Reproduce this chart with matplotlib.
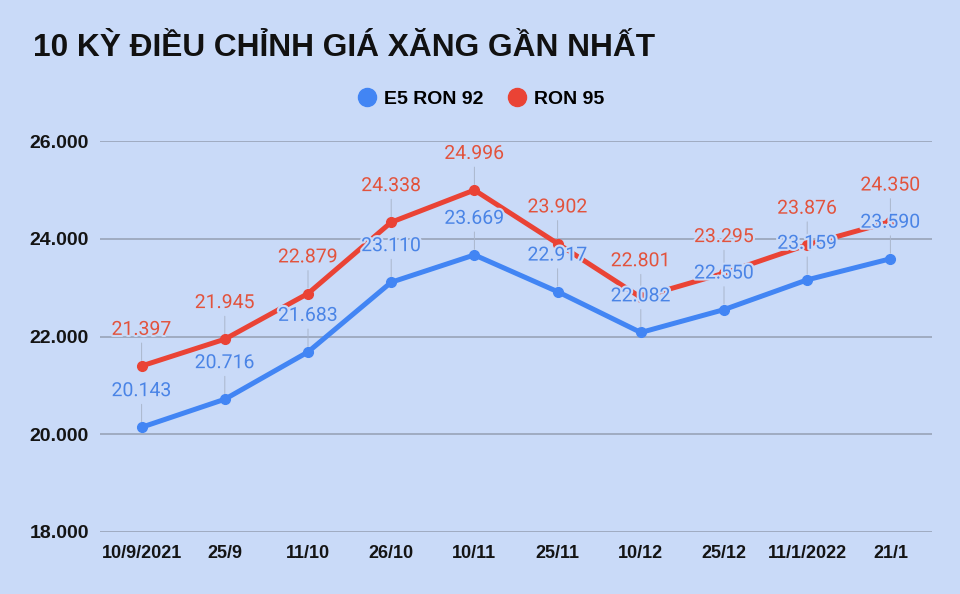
import matplotlib
matplotlib.use("Agg")
import matplotlib.pyplot as plt
import matplotlib.patheffects as pe
from matplotlib.lines import Line2D

# chart data
dates = ["10/9/2021", "25/9", "11/10", "26/10", "10/11", "25/11", "10/12", "25/12", "11/1/2022", "21/1"]
e5_ron92 = [20143, 20716, 21683, 23110, 23669, 22917, 22082, 22550, 23159, 23590]
ron95 = [21397, 21945, 22879, 24338, 24996, 23902, 22801, 23295, 23876, 24350]
y_ticks = [18000, 20000, 22000, 24000, 26000]

bg = "#c9daf8"
blue = "#4285f4"
red = "#ea4335"
bold_font = ["Liberation Sans", "DejaVu Sans"]


def fmt(v):
    return f"{v:,}".replace(",", ".")


fig = plt.figure(figsize=(9.6, 5.94), dpi=100, facecolor=bg)
ax = fig.add_axes([100 / 960, 1 - 532 / 594, 832 / 960, 391 / 594])
ax.set_facecolor(bg)

x = list(range(len(dates)))
ax.plot(x, e5_ron92, color=blue, lw=3.6, marker="o", ms=7, zorder=3, solid_capstyle="round")
ax.plot(x, ron95, color=red, lw=3.6, marker="o", ms=7, zorder=3, solid_capstyle="round")

# value labels with thin leader lines, halo so the lines don't cut through them
halo = [pe.withStroke(linewidth=3, foreground=bg)]
for series, tcol in [(ron95, "#e2533d"), (e5_ron92, "#4a84e6")]:
    for xi, v in zip(x, series):
        ax.annotate(fmt(v), (xi, v), xytext=(0, 26), textcoords="offset points",
                    ha="center", va="center", fontsize=14, family="Roboto",
                    color=tcol, zorder=4, path_effects=halo,
                    arrowprops=dict(arrowstyle="-", color="#aab6cc", lw=0.7,
                                    shrinkA=1, shrinkB=4))

ax.set_xlim(-0.5, 9.5)
ax.set_ylim(18000, 26000)
ax.set_yticks(y_ticks)
ax.set_yticklabels([fmt(t) for t in y_ticks], fontsize=14, fontweight="bold",
                   family=bold_font, color="#141414")
ax.set_xticks(x)
ax.set_xticklabels(dates, fontsize=13, fontweight="bold", family=bold_font, color="#141414")
ax.tick_params(axis="y", length=0, pad=8)
ax.tick_params(axis="x", length=0, pad=9)
ax.grid(axis="y", color="#98a3b8", lw=1.2)
ax.set_axisbelow(True)
for s in ax.spines.values():
    s.set_visible(False)

fig.text(33 / 960, 1 - 48 / 594, "10 KỲ ĐIỀU CHỈNH GIÁ XĂNG GẦN NHẤT", fontsize=22.8,
         fontweight="bold", family=bold_font, color="#111111", va="center", ha="left")

handles = [Line2D([], [], color=blue, marker="o", ls="none", ms=13),
           Line2D([], [], color=red, marker="o", ls="none", ms=13)]
fig.legend(handles, ["E5 RON 92", "RON 95"], loc="center", bbox_to_anchor=(480 / 960, 1 - 99 / 594),
           ncol=2, frameon=False, prop={"family": bold_font, "weight": "bold", "size": 14},
           handletextpad=0.3, columnspacing=1.1, handlelength=1.2)

fig.savefig("out.png", dpi=100, facecolor=bg)
